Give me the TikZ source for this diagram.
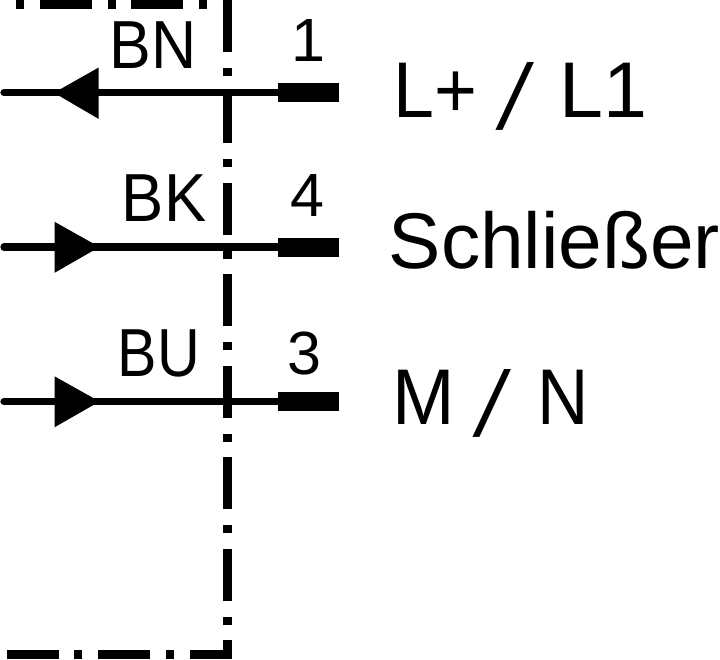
\documentclass[tikz,border=0pt]{standalone}
\usepackage{graphicx}
\usepackage{fontspec}
\setmainfont{Liberation Sans}
\newfontfamily\slashfont{Liberation Mono}
\newcommand{\tallslash}{\raisebox{-12pt}{\scalebox{1}[1.17]{\slashfont /}}}
\newcommand{\narrow}[2]{\scalebox{#1}[1]{#2}}
\tikzset{
  wire/.style={line width=7.3pt,line cap=round},
  terminalbar/.style={line width=19pt},
  housing/.style={line width=9pt,dash pattern=on 52pt off 16pt on 8pt off 15.5pt},
  arrowhead/.style={fill=black,draw=none},
  wirelabel/.style={font=\fontsize{68}{68}\selectfont,inner sep=0pt,anchor=base},
  pinlabel/.style={font=\fontsize{61}{61}\selectfont,inner sep=0pt,anchor=base},
  signal/.style={font=\fontsize{79}{79}\selectfont,inner sep=0pt,anchor=base west}
}
\begin{document}
\begin{tikzpicture}[x=1pt,y=-1pt]
\useasboundingbox (0,0) rectangle (720,659);
\clip (0,0) rectangle (720,659);
\draw[housing] (-52,4.5) -- (227.5,4.5) -- (227.5,654) -- (0,654);
% wires
\coordinate (w1) at (4,92.8); \coordinate (t1) at (278,92.8); \coordinate (e1) at (339,92.8);
\coordinate (w2) at (4,247);  \coordinate (t2) at (278,247);  \coordinate (e2) at (339,247);
\coordinate (w3) at (4,401.5);\coordinate (t3) at (278,401.5);\coordinate (e3) at (339,401.5);
\draw[wire] (w1) -- (t1);
\draw[wire] (w2) -- (t2);
\draw[wire] (w3) -- (t3);
\draw[terminalbar] (t1) -- (e1);
\draw[terminalbar] (t2) -- (e2);
\draw[terminalbar] (t3) -- (e3);
\fill[arrowhead] (54,92.8) -- (98.5,67.6) -- (98.5,118.8) -- cycle;
\fill[arrowhead] (99.5,247) -- (54.5,221.8) -- (54.5,272.8) -- cycle;
\fill[arrowhead] (99.5,401.5) -- (54.5,376.3) -- (54.5,427.3) -- cycle;
% labels
\node[wirelabel] (bn) at (153,68) {\narrow{.92}{BN}};
\node[wirelabel] (bk) at (164,221) {\narrow{.93}{BK}};
\node[wirelabel] (bu) at (159,376.5) {\narrow{.87}{BU}};
\node[pinlabel] (p1) at (308,61) {1};
\node[pinlabel] (p4) at (307,216) {4};
\node[pinlabel] (p3) at (304,374) {3};
\node[signal] (s1) at (393.5,117.7) {\narrow{.93}{L+}\hspace{14pt}\tallslash\hspace{20.5pt}L1};
\node[signal,xscale=0.993,transform shape] (s2) at (388.5,268.3) {Schließer};
\node[signal] (s3) at (392,424.3) {\narrow{.95}{M}\hspace{13.8pt}\tallslash\hspace{22pt}\narrow{.9}{N}};
\end{tikzpicture}
\end{document}
